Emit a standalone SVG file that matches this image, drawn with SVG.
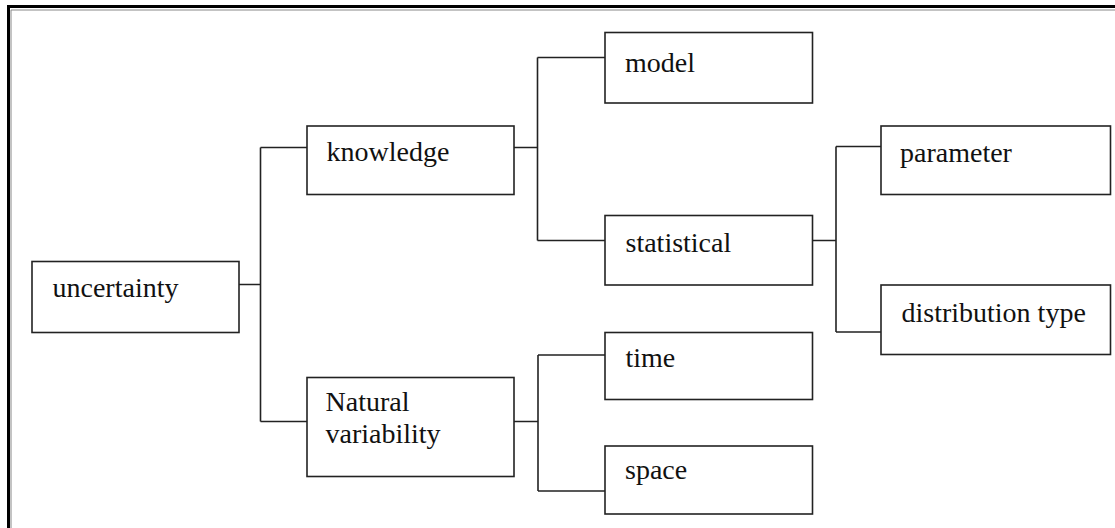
<svg xmlns="http://www.w3.org/2000/svg" width="1115" height="528" viewBox="0 0 1115 528">
<style>
.box{fill:#fff;stroke:#222;stroke-width:1.6}
.lbl{font-family:"Liberation Serif","Times New Roman",serif;font-size:28px;fill:#111}
.conn{fill:none;stroke:#222;stroke-width:1.6}
</style>
<rect width="1115" height="528" fill="#fff"/>
<g id="frame">
<path d="M8.5 540 V6.5 H1130" fill="none" stroke="#000" stroke-width="3"/>
<path d="M11 540 V10 H1130" fill="none" stroke="#888" stroke-width="1"/>
</g>
<g id="connectors">
<path class="conn" d="M239 284.5 H260.5 M260.5 147.5 V421.5 M260.5 147.5 H307 M260.5 421.5 H307"/>
<path class="conn" d="M514 147.5 H537.5 M537.5 57.5 V240.5 M537.5 57.5 H605 M537.5 240.5 H605"/>
<path class="conn" d="M812 240.5 H836 M836 146.5 V332 M836 146.5 H881 M836 332 H881"/>
<path class="conn" d="M514 421.5 H538 M538 355 V491 M538 355 H605 M538 491 H605"/>
</g>
<g id="uncertainty">
<rect class="box" x="32" y="261.5" width="207" height="71"/>
<text class="lbl" x="52.5" y="297">uncertainty</text>
</g>
<g id="knowledge">
<rect class="box" x="307" y="126" width="207" height="68.5"/>
<text class="lbl" x="326.5" y="161">knowledge</text>
</g>
<g id="natural">
<rect class="box" x="307" y="377.5" width="207" height="99"/>
<text class="lbl" x="325.5" y="410.5">Natural</text>
<text class="lbl" x="325.5" y="442.5">variability</text>
</g>
<g id="model">
<rect class="box" x="605" y="32.5" width="207.5" height="70.5"/>
<text class="lbl" x="625" y="71.5">model</text>
</g>
<g id="statistical">
<rect class="box" x="605" y="215.5" width="207.5" height="69.5"/>
<text class="lbl" x="625.5" y="252">statistical</text>
</g>
<g id="time">
<rect class="box" x="605" y="332.5" width="207.5" height="67"/>
<text class="lbl" x="625.5" y="367">time</text>
</g>
<g id="space">
<rect class="box" x="605" y="446" width="207.5" height="68"/>
<text class="lbl" x="625" y="479">space</text>
</g>
<g id="parameter">
<rect class="box" x="881" y="126" width="229.5" height="68.5"/>
<text class="lbl" x="900" y="162">parameter</text>
</g>
<g id="distribution">
<rect class="box" x="881" y="285" width="229.5" height="69.5"/>
<text class="lbl" x="901.5" y="321.5">distribution type</text>
</g>
</svg>
